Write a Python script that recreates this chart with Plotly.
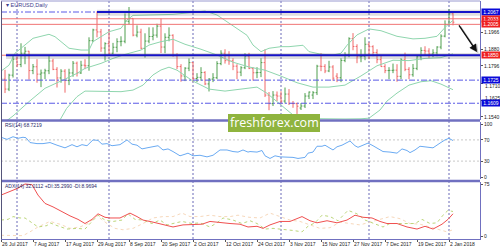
import plotly.graph_objects as go
from plotly.subplots import make_subplots
from datetime import datetime

# ---------------- data ----------------
dates = [
    "2017-07-26", "2017-07-27", "2017-07-28", "2017-07-31",
    "2017-08-01", "2017-08-02", "2017-08-03", "2017-08-04", "2017-08-07", "2017-08-08", "2017-08-09",
    "2017-08-10", "2017-08-11", "2017-08-14", "2017-08-15", "2017-08-16", "2017-08-17", "2017-08-18",
    "2017-08-21", "2017-08-22", "2017-08-23", "2017-08-24", "2017-08-25", "2017-08-28", "2017-08-29",
    "2017-08-30", "2017-08-31",
    "2017-09-01", "2017-09-04", "2017-09-05", "2017-09-06", "2017-09-07", "2017-09-08", "2017-09-11",
    "2017-09-12", "2017-09-13", "2017-09-14", "2017-09-15", "2017-09-18", "2017-09-19", "2017-09-20",
    "2017-09-21", "2017-09-22", "2017-09-25", "2017-09-26", "2017-09-27", "2017-09-28", "2017-09-29",
    "2017-10-02", "2017-10-03", "2017-10-04", "2017-10-05", "2017-10-06", "2017-10-09", "2017-10-10",
    "2017-10-11", "2017-10-12", "2017-10-13", "2017-10-16", "2017-10-17", "2017-10-18", "2017-10-19",
    "2017-10-20", "2017-10-23", "2017-10-24", "2017-10-25", "2017-10-26", "2017-10-27", "2017-10-30",
    "2017-10-31",
    "2017-11-01", "2017-11-02", "2017-11-03", "2017-11-06", "2017-11-07", "2017-11-08", "2017-11-09",
    "2017-11-10", "2017-11-13", "2017-11-14", "2017-11-15", "2017-11-16", "2017-11-17", "2017-11-20",
    "2017-11-21", "2017-11-22", "2017-11-23", "2017-11-24", "2017-11-27", "2017-11-28", "2017-11-29",
    "2017-11-30",
    "2017-12-01", "2017-12-04", "2017-12-05", "2017-12-06", "2017-12-07", "2017-12-08", "2017-12-11",
    "2017-12-12", "2017-12-13", "2017-12-14", "2017-12-15", "2017-12-18", "2017-12-19", "2017-12-20",
    "2017-12-21", "2017-12-22", "2017-12-26", "2017-12-27", "2017-12-28", "2017-12-29",
    "2018-01-02", "2018-01-03",
]

opens = [
    1.1645, 1.1730, 1.1680, 1.1750,
    1.1830, 1.1803, 1.1860, 1.1870, 1.1773, 1.1792, 1.1755, 1.1761, 1.1772,
    1.1821, 1.1779, 1.1736, 1.1770, 1.1723, 1.1761, 1.1810, 1.1761, 1.1800, 1.1797,
    1.1923, 1.1977, 1.1967, 1.1886,
    1.1908, 1.1860, 1.1890, 1.1918, 1.1920, 1.2020, 1.2035, 1.1951, 1.1966, 1.1885, 1.1921,
    1.1944, 1.1951, 1.1996, 1.1891, 1.1940, 1.1950, 1.1848, 1.1793, 1.1746, 1.1785,
    1.1813, 1.1733, 1.1739, 1.1763, 1.1706, 1.1730, 1.1737, 1.1808, 1.1860, 1.1823, 1.1822,
    1.1795, 1.1765, 1.1787, 1.1846, 1.1784, 1.1762, 1.1763, 1.1813, 1.1650, 1.1607, 1.1650,
    1.1645, 1.1620, 1.1655, 1.1608, 1.1607, 1.1585, 1.1595, 1.1645, 1.1650, 1.1662, 1.1795,
    1.1794, 1.1771, 1.1791, 1.1745, 1.1737, 1.1824, 1.1853, 1.1933, 1.1894, 1.1842, 1.1845,
    1.1905, 1.1893, 1.1864, 1.1828, 1.1793, 1.1773, 1.1774, 1.1775, 1.1744, 1.1827, 1.1779,
    1.1752, 1.1784, 1.1842, 1.1874, 1.1871, 1.1856, 1.1862, 1.1891, 1.1946,
    1.2005, 1.2058,
]
highs = [
    1.1740, 1.1777, 1.1757, 1.1846,
    1.1845, 1.1910, 1.1892, 1.1872, 1.1806, 1.1830, 1.1778, 1.1782, 1.1846,
    1.1832, 1.1790, 1.1780, 1.1780, 1.1782, 1.1821, 1.1818, 1.1822, 1.1830, 1.1940,
    1.1983, 1.2070, 1.1982, 1.1915,
    1.1980, 1.1912, 1.1935, 1.1945, 1.2060, 1.2092, 1.2036, 1.2000, 1.1983, 1.1960, 1.1990,
    1.1990, 1.2008, 1.2034, 1.1960, 1.1990, 1.1955, 1.1860, 1.1805, 1.1790, 1.1834,
    1.1815, 1.1760, 1.1790, 1.1770, 1.1735, 1.1760, 1.1820, 1.1875, 1.1880, 1.1870, 1.1835,
    1.1805, 1.1795, 1.1860, 1.1862, 1.1790, 1.1790, 1.1835, 1.1880, 1.1665, 1.1670, 1.1668,
    1.1669, 1.1688, 1.1680, 1.1620, 1.1612, 1.1610, 1.1660, 1.1668, 1.1670, 1.1802, 1.1861,
    1.1805, 1.1822, 1.1800, 1.1760, 1.1835, 1.1865, 1.1940, 1.1961, 1.1905, 1.1880, 1.1940,
    1.1915, 1.1900, 1.1880, 1.1850, 1.1805, 1.1790, 1.1808, 1.1805, 1.1835, 1.1863, 1.1790,
    1.1806, 1.1850, 1.1890, 1.1895, 1.1885, 1.1880, 1.1895, 1.1955, 1.2025,
    1.2081, 1.2066,
]
lows = [
    1.1615, 1.1660, 1.1670, 1.1738,
    1.1790, 1.1790, 1.1805, 1.1728, 1.1755, 1.1712, 1.1690, 1.1730, 1.1755,
    1.1775, 1.1688, 1.1712, 1.1662, 1.1700, 1.1742, 1.1743, 1.1756, 1.1780, 1.1772,
    1.1916, 1.1940, 1.1867, 1.1823,
    1.1858, 1.1855, 1.1865, 1.1895, 1.1910, 1.2005, 1.1945, 1.1940, 1.1880, 1.1838, 1.1910,
    1.1925, 1.1938, 1.1861, 1.1860, 1.1920, 1.1843, 1.1780, 1.1717, 1.1720, 1.1770,
    1.1715, 1.1715, 1.1722, 1.1700, 1.1668, 1.1715, 1.1730, 1.1800, 1.1808, 1.1802, 1.1775,
    1.1730, 1.1745, 1.1780, 1.1780, 1.1723, 1.1735, 1.1740, 1.1640, 1.1574, 1.1595, 1.1620,
    1.1603, 1.1608, 1.1600, 1.1586, 1.1555, 1.1575, 1.1585, 1.1630, 1.1630, 1.1650, 1.1770,
    1.1760, 1.1765, 1.1722, 1.1715, 1.1715, 1.1815, 1.1840, 1.1875, 1.1810, 1.1815, 1.1825,
    1.1830, 1.1845, 1.1810, 1.1792, 1.1760, 1.1730, 1.1760, 1.1717, 1.1730, 1.1770, 1.1730,
    1.1742, 1.1775, 1.1825, 1.1850, 1.1835, 1.1840, 1.1845, 1.1880, 1.1940,
    1.2000, 1.2000,
]
closes = [
    1.1730, 1.1680, 1.1750, 1.1830,
    1.1803, 1.1860, 1.1870, 1.1773, 1.1792, 1.1755, 1.1761, 1.1772, 1.1821,
    1.1779, 1.1736, 1.1770, 1.1723, 1.1761, 1.1810, 1.1761, 1.1800, 1.1797, 1.1923,
    1.1977, 1.1967, 1.1886, 1.1908,
    1.1860, 1.1890, 1.1918, 1.1920, 1.2020, 1.2035, 1.1951, 1.1966, 1.1885, 1.1921, 1.1944,
    1.1951, 1.1996, 1.1891, 1.1940, 1.1950, 1.1848, 1.1793, 1.1746, 1.1785, 1.1813,
    1.1733, 1.1739, 1.1763, 1.1706, 1.1730, 1.1737, 1.1808, 1.1860, 1.1823, 1.1822, 1.1795,
    1.1765, 1.1787, 1.1846, 1.1784, 1.1762, 1.1763, 1.1813, 1.1650, 1.1607, 1.1650, 1.1645,
    1.1620, 1.1655, 1.1608, 1.1607, 1.1594, 1.1595, 1.1645, 1.1665, 1.1662, 1.1795, 1.1794,
    1.1771, 1.1791, 1.1735, 1.1737, 1.1824, 1.1853, 1.1933, 1.1894, 1.1842, 1.1845, 1.1905,
    1.1893, 1.1864, 1.1828, 1.1793, 1.1773, 1.1774, 1.1775, 1.1744, 1.1827, 1.1779, 1.1752,
    1.1784, 1.1842, 1.1874, 1.1871, 1.1856, 1.1862, 1.1891, 1.1946, 1.2005,
    1.2058, 1.2016,
]

# Bollinger bands (bar index -> price)
bb_upper_bars = [0, 2, 3.5, 6, 8, 12, 13.5, 15.5, 17, 20, 22, 23, 25, 27, 30, 31.5, 33, 39, 43, 48,
                 51, 54, 56.5, 59, 61.5, 63, 65, 67, 70, 72, 75.5, 77, 80, 83, 85, 86.5, 89, 92,
                 95, 99, 103, 106, 109, 111.5, 113]
bb_upper = [1.1770, 1.1800, 1.1860, 1.1901, 1.1935, 1.1955, 1.1943, 1.1910, 1.1885, 1.1876, 1.1876,
            1.1918, 1.1943, 1.1968, 1.1985, 1.2027, 1.2050, 1.2055, 1.2055, 1.2065, 1.2072, 1.2052,
            1.2018, 1.1985, 1.1950, 1.1901, 1.1868, 1.1885, 1.1893, 1.1893, 1.1900, 1.1868, 1.1855,
            1.1851, 1.1860, 1.1900, 1.1952, 1.1982, 1.1973, 1.1945, 1.1932, 1.1935, 1.1945, 1.2000,
            1.2025]
bb_mid_bars = [0, 3, 7, 11, 16, 19, 21, 25, 28, 31, 35, 37, 40, 43, 46, 50, 54, 58, 62, 66, 70, 74,
               78, 82, 86, 90, 94, 98, 102, 106, 110, 113]
bb_mid = [1.1500, 1.1545, 1.1617, 1.1684, 1.1730, 1.1759, 1.1784, 1.1809, 1.1834, 1.1854, 1.1876,
          1.1901, 1.1918, 1.1930, 1.1905, 1.1880, 1.1851, 1.1815, 1.1791, 1.1775, 1.1745, 1.1712,
          1.1690, 1.1690, 1.1700, 1.1746, 1.1797, 1.1825, 1.1823, 1.1834, 1.1838, 1.1857]
bb_lower_bars = [13, 14.75, 16.4, 19, 21, 25, 30, 33, 35.5, 38, 40, 42, 44, 48, 52, 56, 60, 64, 66.5,
                 70, 73, 76, 80, 86, 90, 92, 94.75, 96.5, 99, 102, 105, 107.5, 110, 113]
bb_lower = [1.1490, 1.1525, 1.1583, 1.1642, 1.1670, 1.1670, 1.1667, 1.1675, 1.1700, 1.1751, 1.1776,
            1.1790, 1.1775, 1.1720, 1.1680, 1.1670, 1.1680, 1.1690, 1.1659, 1.1600, 1.1550, 1.1532,
            1.1530, 1.1530, 1.1531, 1.1534, 1.1575, 1.1620, 1.1660, 1.1700, 1.1717, 1.1722, 1.1705,
            1.1677]

# RSI(14)
rsi_bars = [0, 1.5, 3, 4.25, 5.5, 6.25, 7.25, 9, 10.5, 12.25, 14, 16, 17.75, 19, 20.25, 21.5, 23,
            24.25, 25.25, 26.5, 27.75, 29.75, 31.5, 32.75, 34, 35.25, 36.5, 38, 39.25, 40.5, 41.75,
            43, 44.75, 46, 46.75, 48, 49.75, 51.5, 53, 54.75, 56.5, 58, 59.25, 60.5, 61.75, 62.25,
            64, 65.25, 66, 67.25, 68.5, 69.75, 71.75, 73, 74.25, 76, 76.75, 78, 79, 80.25, 81, 81.75,
            83, 84, 85.25, 86.5, 87.25, 88.5, 89.25, 90.5, 91.75, 93, 94.25, 95.5, 97.25, 99, 100.25,
            101.5, 102.25, 103.5, 104.75, 106.5, 108, 109.75, 111, 112, 113]
rsi_vals = [75, 71, 76, 73, 75, 74, 65, 63, 63, 65, 60, 55, 61, 57, 61, 59, 70, 69, 62, 63, 59, 61,
            70, 62, 60, 53, 55, 57, 59, 51, 53, 48, 40, 43, 45, 40, 41, 38, 41, 51, 51, 48, 47, 51,
            47, 48, 47, 50, 40, 35, 40, 38, 38, 37, 35, 37, 45, 47, 58, 58, 60, 57, 51, 57, 60, 65,
            68, 59, 56, 60, 64, 59, 53, 48, 47, 45, 53, 50, 46, 51, 58, 57, 55, 64, 70, 73, 68.7219]

# ADX(14) with +DI / -DI
adx_bars = [0, 2.25, 4.25, 6, 7.75, 9.25, 11, 13, 15.25, 17.25, 19.25, 21, 22.75, 24.25, 26, 27.25,
            29.75, 32.25, 34, 35.5, 38, 40.5, 43, 45.5, 48, 50.25, 52.25, 54.75, 57.25, 59.75, 61.75,
            64, 65.5, 67.25, 69.75, 72.25, 75.25, 77.25, 79, 81.5, 84, 86.5, 88.5, 90.5, 92.75,
            94.75, 96.5, 99, 101.5, 104, 106, 108, 110.25, 111.75, 113]
adx_vals = [59, 64, 69, 75, 74, 59, 47, 42, 35, 29, 24, 18, 24, 32, 27, 26, 26, 33, 28, 23, 20, 17,
            13, 16, 16, 17, 21, 19, 18, 17, 13, 14, 11, 16, 21, 21, 28, 22, 19, 22, 19, 23, 30, 27,
            26, 21, 18, 18, 13, 10, 14, 10, 17, 24, 32.0112]
pdi_bars = [0, 1.75, 3, 4.75, 6, 7.75, 9.25, 11.5, 12.25, 14, 16.5, 19, 21, 22.75, 24.25, 26, 28,
            30.25, 31.75, 33.5, 35.5, 37.75, 39.75, 41.5, 43, 45.25, 47.75, 49.75, 52.25, 54, 55.5,
            58, 60.25, 62.25, 64, 66, 68, 70.5, 73, 75.25, 76.75, 78.5, 80.25, 82.25, 84.25, 86.75,
            89, 91, 93.5, 95.5, 97.25, 99.25, 101.5, 103.5, 105.25, 107.25, 109, 110.5, 111.75, 113]
pdi_vals = [23, 24, 28, 26, 26, 19, 13, 15, 19, 15, 10, 11, 10, 21, 30, 23, 21, 23, 32, 24, 23, 18,
            23, 16, 18, 21, 18, 19, 13, 19, 26, 23, 18, 22, 18, 10, 11, 10, 8, 6, 14, 19, 30, 28, 22,
            37, 32, 23, 18, 13, 18, 18, 18, 18, 24, 18, 19, 30, 37, 35.2990]
mdi_bars = [0, 3, 5.5, 7.25, 9.25, 12.25, 14.75, 17.25, 19.75, 21.75, 24, 26.5, 28.5, 30.5, 33, 35.5,
            38, 40.5, 43, 45.25, 47.25, 49.75, 52.25, 54.75, 57.25, 59.25, 62, 64.75, 67.25, 69.75,
            72.25, 74.75, 77.25, 79.75, 82.25, 84.75, 87.25, 89.75, 92.25, 94.75, 97.25, 99.75,
            102.25, 104.75, 107.25, 109.75, 111.5, 113]
mdi_vals = [1, 1, 0.5, 6, 13, 21, 17, 11, 13, 18, 29, 18, 11, 9, 11, 18, 26, 28, 28, 33, 28, 28, 30,
            28, 28, 30, 27, 26, 33, 28, 23, 21, 16, 11, 12, 20, 18, 16, 20, 24, 28, 25, 18, 17, 13, 9,
            6, 8.9694]

# horizontal levels drawn on the price chart
level_prices = [1.2067, 1.2033, 1.2005, 1.1850, 1.1725, 1.1609]
level_box_colors = ["#0a0ad8", "#ee2020", "#ee2020", "#ee2020", "#0a0ad8", "#0a0ad8"]
price_ticks = [1.1540, 1.1625, 1.1710, 1.1796, 1.1880, 1.1966]
rsi_ticks = [0, 30, 70, 100]
rsi_levels = [30, 70]
adx_ticks = [0, 75]
resistance_start_bar = 24
support_start_bar = 1.25
arrow_from = (114.25, 1.2007)
arrow_to = (119.0, 1.1866)

# ---------------- geometry helpers ----------------
W, H = 500, 250
ML, MR, MT, MB = 1, 20, 1, 11
PW, PH = W - ML - MR, H - MT - MB


def xp(px):
    return (px - ML) / PW


def yp(py):
    return (H - MB - py) / PH


FONT = "Liberation Sans"
idx = list(range(len(dates)))
parsed = [datetime.strptime(d, "%Y-%m-%d") for d in dates]
tick_idx = idx[::8]
tick_txt = [f"{parsed[i].day} {parsed[i].strftime('%b %Y')}" for i in tick_idx]
month_starts = [i for i in idx[1:] if parsed[i].month != parsed[i - 1].month]

fig = make_subplots(rows=3, cols=1, shared_xaxes=False, vertical_spacing=0.01)

band_col = "#8fd6ae"
for bx, by in ((bb_upper_bars, bb_upper), (bb_mid_bars, bb_mid), (bb_lower_bars, bb_lower)):
    fig.add_trace(go.Scatter(x=bx, y=by, mode="lines", line=dict(color=band_col, width=1),
                             hoverinfo="skip", showlegend=False), row=1, col=1)

fig.add_trace(go.Ohlc(x=idx, open=opens, high=highs, low=lows, close=closes,
                      increasing=dict(line=dict(color="#4f9f4f", width=1)),
                      decreasing=dict(line=dict(color="#f06868", width=1)),
                      tickwidth=0.35, hoverinfo="skip", showlegend=False), row=1, col=1)

fig.add_trace(go.Scatter(x=rsi_bars, y=rsi_vals, mode="lines", line=dict(color="#6aaaf2", width=1),
                         hoverinfo="skip", showlegend=False), row=2, col=1)

fig.add_trace(go.Scatter(x=mdi_bars, y=mdi_vals, mode="lines",
                         line=dict(color="#f7d8bb", width=1, dash="dot"),
                         hoverinfo="skip", showlegend=False), row=3, col=1)
fig.add_trace(go.Scatter(x=pdi_bars, y=pdi_vals, mode="lines",
                         line=dict(color="#bcd67a", width=1, dash="dot"),
                         hoverinfo="skip", showlegend=False), row=3, col=1)
fig.add_trace(go.Scatter(x=adx_bars, y=adx_vals, mode="lines", line=dict(color="#f05050", width=1),
                         hoverinfo="skip", showlegend=False), row=3, col=1)

xr = [0, 119.75]
for k in (1, 2, 3):
    name = "xaxis" if k == 1 else f"xaxis{k}"
    fig.layout[name].update(range=xr, showgrid=False, zeroline=False, showline=False,
                            showticklabels=False, ticks="", fixedrange=True,
                            rangeslider=dict(visible=False))
fig.layout.xaxis3.update(showticklabels=True, tickvals=tick_idx, ticktext=tick_txt, ticks="outside",
                         ticklen=2, tickcolor="#555", ticklabelposition="outside right",
                         tickangle=0,
                         tickfont=dict(family=FONT, size=5, color="#222"),
                         showline=True, linecolor="#7070c0", linewidth=1)

# price tick labels that sit right next to a boxed level label are nudged as separate texts
crowded = {1.1710: -2.5, 1.1625: 2.0}
ycommon = dict(side="right", showgrid=False, zeroline=False, showline=True, linecolor="#7070c0",
               linewidth=1, ticks="outside", ticklen=2, tickcolor="#555", fixedrange=True,
               tickfont=dict(family=FONT, size=5, color="#222"))
fig.layout.yaxis.update(domain=[yp(120), yp(1)], range=[1.152484, 1.212222], tickvals=price_ticks,
                        ticktext=["" if v in crowded else f"{v:.4f}" for v in price_ticks],
                        **ycommon)
fig.layout.yaxis2.update(domain=[yp(179), yp(121.5)], range=[-3.77, 104.72], tickvals=rsi_ticks,
                         ticktext=[str(v) for v in rsi_ticks], **ycommon)
fig.layout.yaxis3.update(domain=[0, yp(182)], range=[-4.33, 77.88], tickvals=adx_ticks,
                         ticktext=[str(v) for v in adx_ticks], **ycommon)

shapes = []
# month separators through all panels
for m in month_starts:
    shapes.append(dict(type="line", xref="x", yref="paper", x0=m, x1=m, y0=0, y1=1, layer="below",
                       line=dict(color="#6a6ab8", width=1, dash="2px,2px")))
# RSI levels
for lv in rsi_levels:
    shapes.append(dict(type="line", xref="x2 domain", yref="y2", x0=0, x1=1, y0=lv, y1=lv,
                       layer="below", line=dict(color="#c8c8c8", width=1, dash="2px,2px")))

dashdot = "6px,2px,2px,2px"
blue = "#1414c8"
# 1.2067 resistance: dash-dot all across, thick from the August top
shapes.append(dict(type="line", xref="x domain", yref="y", x0=0, x1=1, y0=level_prices[0],
                   y1=level_prices[0], line=dict(color="#5a5ae6", width=1, dash=dashdot)))
shapes.append(dict(type="line", xref="x", yref="y", x0=resistance_start_bar, x1=xr[1],
                   y0=level_prices[0] - 0.0004, y1=level_prices[0] - 0.0004,
                   line=dict(color="rgba(110,110,110,0.22)", width=6)))
shapes.append(dict(type="line", xref="x", yref="y", x0=resistance_start_bar, x1=xr[1],
                   y0=level_prices[0], y1=level_prices[0], line=dict(color=blue, width=2)))
# red levels
for lv in (level_prices[1], level_prices[2], level_prices[3]):
    shapes.append(dict(type="line", xref="x domain", yref="y", x0=0, x1=1, y0=lv, y1=lv,
                       line=dict(color="#f07474", width=1)))
# 1.1850 thick support
shapes.append(dict(type="line", xref="x", yref="y", x0=support_start_bar, x1=xr[1],
                   y0=level_prices[3] - 0.0004, y1=level_prices[3] - 0.0004,
                   line=dict(color="rgba(110,110,110,0.22)", width=6)))
shapes.append(dict(type="line", xref="x", yref="y", x0=support_start_bar, x1=xr[1],
                   y0=level_prices[3], y1=level_prices[3], line=dict(color=blue, width=2)))
# dash-dot supports
for lv in (level_prices[4], level_prices[5]):
    shapes.append(dict(type="line", xref="x domain", yref="y", x0=0, x1=1, y0=lv, y1=lv,
                       line=dict(color="#5a5ae6", width=1, dash=dashdot)))

# frame / panel separators
frame = "#7070c0"
shapes.append(dict(type="line", xref="paper", yref="paper", x0=0, x1=1, y0=yp(120.6), y1=yp(120.6),
                   line=dict(color=frame, width=2.5)))
shapes.append(dict(type="line", xref="paper", yref="paper", x0=0, x1=1, y0=yp(181), y1=yp(181),
                   line=dict(color=frame, width=2.5)))
shapes.append(dict(type="line", xref="paper", yref="paper", x0=xp(1.5), x1=xp(1.5), y0=0, y1=1,
                   line=dict(color="#55557a", width=1)))
shapes.append(dict(type="line", xref="paper", yref="paper", x0=0, x1=1, y0=1, y1=1,
                   line=dict(color="#9a9ad0", width=1)))
# watermark box
shapes.append(dict(type="rect", xref="paper", yref="paper", x0=xp(228), x1=xp(320), y0=yp(132),
                   y1=yp(114), fillcolor="#8fb43e", line=dict(width=0), layer="above"))

annotations = []
for v, dy in crowded.items():
    annotations.append(dict(xref="paper", yref="y", x=1, y=v, xanchor="left", yanchor="middle",
                            xshift=3, yshift=dy, text=f"{v:.4f}", showarrow=False,
                            font=dict(family=FONT, size=5, color="#222")))
for lv, col in zip(level_prices, level_box_colors):
    annotations.append(dict(xref="paper", yref="y", x=1, y=lv, xanchor="left", yanchor="middle",
                            xshift=1, text=f"{lv:.4f}", showarrow=False, bgcolor=col, borderpad=0,
                            width=18, font=dict(family=FONT, size=5, color="white")))
annotations.append(dict(xref="paper", yref="paper", x=xp(4), y=yp(5), xanchor="left",
                        yanchor="middle", text="▾ EURUSD,Daily", showarrow=False,
                        font=dict(family=FONT, size=5.5, color="#3c3c8c")))
annotations.append(dict(xref="paper", yref="paper", x=xp(3), y=yp(125.5), xanchor="left",
                        yanchor="middle", text=f"RSI(14) {rsi_vals[-1]:.4f}", showarrow=False,
                        font=dict(family=FONT, size=5, color="#2a2a6a")))
annotations.append(dict(xref="paper", yref="paper", x=xp(3), y=yp(185.5), xanchor="left",
                        yanchor="middle",
                        text=f"ADX(14) {adx_vals[-1]:.4f} +DI:{pdi_vals[-1]:.4f} -DI:{mdi_vals[-1]:.4f}",
                        showarrow=False, font=dict(family=FONT, size=5, color="#2a2a6a")))
# arrow (shadow + arrow)
annotations.append(dict(xref="x", yref="y", axref="x", ayref="y", x=arrow_to[0] + 0.35,
                        y=arrow_to[1] - 0.0006, ax=arrow_from[0] + 0.35, ay=arrow_from[1] - 0.0006,
                        text="", showarrow=True, arrowhead=2, arrowsize=1.1, arrowwidth=1.6,
                        arrowcolor="rgba(120,120,120,0.45)"))
annotations.append(dict(xref="x", yref="y", axref="x", ayref="y", x=arrow_to[0], y=arrow_to[1],
                        ax=arrow_from[0], ay=arrow_from[1], text="", showarrow=True, arrowhead=2,
                        arrowsize=1.1, arrowwidth=1.4, arrowcolor="#111111"))
annotations.append(dict(xref="paper", yref="paper", x=xp(274), y=yp(123), xanchor="center",
                        yanchor="middle", text="freshforex.com", showarrow=False,
                        font=dict(family="Open Sans", size=12.5, color="white")))

fig.update_layout(width=W, height=H, margin=dict(l=ML, r=MR, t=MT, b=MB),
                  paper_bgcolor="white", plot_bgcolor="white", showlegend=False,
                  shapes=shapes, annotations=annotations, hovermode=False)

fig.write_html("out.html", config=dict(staticPlot=True, displayModeBar=False))
